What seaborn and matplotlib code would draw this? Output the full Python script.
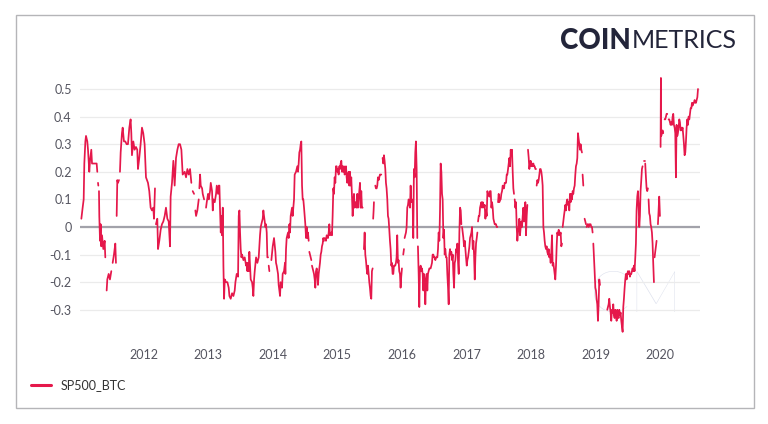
import numpy as np
import pandas as pd
import matplotlib
matplotlib.use("Agg")
import matplotlib.pyplot as plt
import matplotlib.dates as mdates
from matplotlib.lines import Line2D
from matplotlib.patches import Rectangle
from matplotlib.ticker import FuncFormatter
import seaborn as sns

nan = np.nan

# 90-day correlation of S&P 500 and BTC returns (decimal years)
years_a = [2011.038, 2011.058, 2011.074, 2011.084, 2011.100, 2011.110, 2011.130, 2011.141, 2011.161, 2011.172,
           2011.192, 2011.203, 2011.234, 2011.275, 2011.285, 2011.290, 2011.296, 2011.301, 2011.306, 2011.311,
           2011.316, 2011.327, 2011.337, 2011.347, 2011.358, 2011.378, 2011.399, 2011.409, 2011.420, 2011.430,
           2011.440, 2011.461, 2011.481, 2011.502, 2011.512, 2011.523, 2011.543, 2011.564, 2011.574, 2011.580,
           2011.585, 2011.595, 2011.605, 2011.621, 2011.628, 2011.636, 2011.647, 2011.667, 2011.678, 2011.698,
           2011.719, 2011.739, 2011.760, 2011.781, 2011.801, 2011.812, 2011.822, 2011.843, 2011.863, 2011.884,
           2011.904, 2011.915, 2011.935, 2011.956, 2011.977, 2011.997, 2012.018, 2012.039, 2012.070, 2012.090,
           2012.111, 2012.132, 2012.152, 2012.163, 2012.178, 2012.186, 2012.193, 2012.214, 2012.225, 2012.245,
           2012.266, 2012.286, 2012.307, 2012.328, 2012.348, 2012.369, 2012.390, 2012.410, 2012.420, 2012.441,
           2012.462, 2012.482, 2012.503, 2012.524, 2012.544, 2012.565, 2012.586]
corr_a = [0.03, 0.07, 0.10, 0.23, 0.31, 0.33, 0.31, 0.28, 0.20, 0.24,
          0.28, 0.23, 0.23, 0.23, 0.20, nan, 0.16, 0.15, nan, 0.13,
          0.04, -0.05, 0.01, -0.07, -0.03, -0.08, -0.05, -0.11, nan, -0.23,
          -0.19, -0.17, -0.19, -0.16, nan, -0.13, -0.10, -0.06, -0.13, nan,
          0.04, 0.17, 0.16, 0.17, nan, 0.20, 0.27, 0.34, 0.36, 0.31,
          0.31, 0.30, 0.30, 0.36, 0.39, 0.34, 0.26, 0.31, 0.28, 0.29,
          0.28, 0.21, 0.25, 0.30, 0.36, 0.34, 0.30, 0.18, 0.16, 0.13,
          0.07, 0.06, 0.07, 0.03, 0.14, nan, 0.01, 0.03, -0.08, -0.05,
          -0.01, 0.01, 0.02, 0.04, 0.07, 0.03, 0.02, -0.07, 0.11, 0.16,
          0.24, 0.15, 0.25, 0.28, 0.30, 0.30, 0.28]

years_b = [2012.606, 2012.637, 2012.658, 2012.679, 2012.699, 2012.720, 2012.740, 2012.750, 2012.761, 2012.782,
           2012.792, 2012.802, 2012.813, 2012.833, 2012.854, 2012.859, 2012.864, 2012.875, 2012.885, 2012.906,
           2012.916, 2012.937, 2012.952, 2012.967, 2012.978, 2012.998, 2013.009, 2013.029, 2013.040, 2013.060,
           2013.071, 2013.081, 2013.102, 2013.122, 2013.133, 2013.153, 2013.164, 2013.174, 2013.184, 2013.195,
           2013.205, 2013.215, 2013.226, 2013.236, 2013.246, 2013.257, 2013.277, 2013.298, 2013.318, 2013.329,
           2013.349, 2013.370, 2013.391, 2013.411, 2013.422, 2013.442, 2013.463, 2013.473, 2013.484, 2013.494,
           2013.504, 2013.515, 2013.525, 2013.546, 2013.566, 2013.587, 2013.597, 2013.607, 2013.618, 2013.628,
           2013.638, 2013.659, 2013.680, 2013.690, 2013.700, 2013.711, 2013.721, 2013.742, 2013.762, 2013.783,
           2013.793, 2013.803, 2013.814, 2013.834, 2013.845, 2013.855, 2013.865, 2013.876, 2013.886, 2013.896,
           2013.907, 2013.917, 2013.927, 2013.932, 2013.938, 2013.948, 2013.958, 2013.979, 2014.000, 2014.020,
           2014.041, 2014.051, 2014.061, 2014.082, 2014.092, 2014.103, 2014.113, 2014.123, 2014.144, 2014.154,
           2014.175, 2014.190]
corr_b = [0.19, 0.20, 0.18, 0.21, 0.19, 0.21, 0.16, nan, 0.13, 0.12,
          nan, 0.06, 0.04, 0.06, 0.10, nan, 0.14, 0.19, 0.15, 0.14,
          0.12, 0.10, nan, 0.07, 0.09, 0.12, 0.10, 0.13, 0.16, 0.13,
          0.06, 0.10, 0.09, 0.12, 0.15, 0.12, 0.15, 0.15, 0.06, -0.02,
          0.04, -0.03, 0.07, -0.14, -0.26, -0.19, -0.20, -0.20, -0.22, -0.25,
          -0.26, -0.24, -0.25, -0.23, -0.20, -0.17, -0.18, 0.04, 0.06, -0.02,
          -0.08, -0.11, -0.10, -0.12, -0.11, -0.14, -0.13, -0.16, -0.13, -0.16,
          -0.09, -0.19, -0.20, -0.22, -0.25, -0.19, -0.16, -0.11, -0.13, -0.11,
          -0.07, -0.03, 0.00, 0.02, 0.03, 0.06, 0.04, 0.02, 0.00, 0.01,
          -0.02, -0.11, -0.11, nan, -0.14, -0.16, nan, -0.12, -0.07, -0.04,
          -0.09, -0.13, -0.14, -0.17, -0.21, -0.23, -0.25, -0.20, -0.22, -0.17,
          -0.16, -0.13]

years_c = [2014.196, 2014.206, 2014.216, 2014.237, 2014.247, 2014.258, 2014.268, 2014.278, 2014.299, 2014.309,
           2014.319, 2014.330, 2014.340, 2014.361, 2014.381, 2014.392, 2014.402, 2014.412, 2014.423, 2014.433,
           2014.443, 2014.454, 2014.464, 2014.474, 2014.485, 2014.495, 2014.505, 2014.516, 2014.526, 2014.536,
           2014.546, 2014.557, 2014.562, 2014.567, 2014.588, 2014.598, 2014.603, 2014.608, 2014.629, 2014.639,
           2014.650, 2014.660, 2014.670, 2014.681, 2014.691, 2014.701, 2014.712, 2014.722, 2014.732, 2014.743,
           2014.753, 2014.763, 2014.774, 2014.784, 2014.794, 2014.799, 2014.805, 2014.825, 2014.836, 2014.856,
           2014.867, 2014.877, 2014.887, 2014.908, 2014.918, 2014.928, 2014.939, 2014.949, 2014.959, 2014.970,
           2014.980, 2014.990, 2015.001, 2015.011, 2015.021, 2015.032, 2015.042, 2015.052, 2015.063, 2015.073,
           2015.083, 2015.093, 2015.104, 2015.114, 2015.124, 2015.135, 2015.145, 2015.155, 2015.166, 2015.176,
           2015.186, 2015.197, 2015.207, 2015.217, 2015.228, 2015.238, 2015.248, 2015.259, 2015.269, 2015.279,
           2015.290, 2015.300, 2015.310, 2015.321, 2015.331, 2015.341, 2015.352, 2015.362, 2015.372, 2015.382,
           2015.393, 2015.400, 2015.413, 2015.424, 2015.434, 2015.444, 2015.455, 2015.465, 2015.475, 2015.486,
           2015.496, 2015.506, 2015.517, 2015.527, 2015.537, 2015.548, 2015.551, 2015.556, 2015.563, 2015.568,
           2015.579, 2015.589, 2015.599, 2015.610, 2015.620, 2015.630, 2015.641, 2015.651, 2015.661, 2015.672,
           2015.682, 2015.688, 2015.702, 2015.713, 2015.723, 2015.733, 2015.744, 2015.754]
corr_c = [-0.17, -0.08, -0.04, -0.02, -0.04, 0.01, -0.02, 0.04, 0.07, 0.04,
          0.07, 0.10, 0.19, 0.20, 0.22, 0.20, 0.23, 0.27, 0.28, 0.30,
          0.31, 0.15, 0.10, 0.10, 0.07, 0.04, 0.01, -0.04, 0.00, -0.04,
          -0.02, -0.05, nan, -0.09, -0.11, -0.12, nan, -0.14, -0.16, -0.17,
          -0.19, -0.22, -0.16, -0.15, -0.17, -0.21, -0.17, -0.15, -0.13, -0.10,
          -0.09, -0.07, -0.06, -0.04, -0.05, nan, -0.04, -0.05, -0.03, -0.04,
          -0.02, 0.01, -0.03, -0.02, -0.03, 0.04, 0.14, 0.12, 0.18, 0.16,
          0.22, 0.22, 0.20, 0.21, 0.19, 0.22, 0.21, 0.23, 0.24, 0.20,
          0.22, 0.20, 0.22, 0.19, 0.20, 0.22, 0.18, 0.16, 0.19, 0.20,
          0.15, 0.20, 0.15, 0.18, 0.11, 0.04, 0.09, 0.12, 0.07, 0.09,
          0.08, 0.07, 0.12, 0.07, 0.10, 0.13, 0.16, 0.07, 0.13, 0.07,
          0.07, nan, -0.08, -0.02, -0.10, -0.12, -0.15, -0.17, -0.14, -0.17,
          -0.20, -0.22, -0.25, -0.26, -0.16, -0.15, nan, 0.03, 0.06, 0.09,
          nan, 0.15, 0.14, 0.14, 0.15, 0.18, 0.17, 0.18, 0.19, 0.19,
          0.19, nan, 0.25, 0.23, 0.26, 0.24, 0.21, 0.16]

years_d = [2015.764, 2015.775, 2015.785, 2015.795, 2015.806, 2015.816, 2015.826, 2015.837, 2015.847, 2015.857,
           2015.868, 2015.878, 2015.888, 2015.898, 2015.909, 2015.919, 2015.929, 2015.940, 2015.950, 2015.960,
           2015.971, 2015.981, 2015.991, 2016.002, 2016.012, 2016.022, 2016.033, 2016.038, 2016.043, 2016.053,
           2016.064, 2016.074, 2016.084, 2016.095, 2016.105, 2016.115, 2016.126, 2016.136, 2016.146, 2016.157,
           2016.167, 2016.177, 2016.187, 2016.198, 2016.208, 2016.218, 2016.229, 2016.239, 2016.244, 2016.249,
           2016.260, 2016.270, 2016.280, 2016.291, 2016.301, 2016.311, 2016.322, 2016.332, 2016.342, 2016.353,
           2016.363, 2016.373, 2016.384, 2016.394, 2016.404, 2016.414, 2016.425, 2016.435, 2016.445, 2016.456,
           2016.466, 2016.476, 2016.487, 2016.497, 2016.507, 2016.518, 2016.528, 2016.538, 2016.549, 2016.559,
           2016.569, 2016.580, 2016.590, 2016.600, 2016.611, 2016.621, 2016.631, 2016.642, 2016.652, 2016.662,
           2016.672, 2016.683, 2016.693, 2016.703, 2016.714, 2016.724, 2016.734, 2016.745, 2016.755, 2016.765,
           2016.776, 2016.786, 2016.796, 2016.807, 2016.817, 2016.827, 2016.838, 2016.848, 2016.858, 2016.869,
           2016.879, 2016.889, 2016.900, 2016.910, 2016.920, 2016.925, 2016.931, 2016.941, 2016.951, 2016.961,
           2016.972, 2016.982, 2016.992, 2017.003, 2017.013, 2017.023, 2017.034, 2017.044, 2017.054, 2017.065,
           2017.075, 2017.085, 2017.096, 2017.106, 2017.116, 2017.127, 2017.137, 2017.147, 2017.158, 2017.168,
           2017.173, 2017.178, 2017.189, 2017.199, 2017.209, 2017.219, 2017.230, 2017.240, 2017.250, 2017.261,
           2017.271, 2017.281, 2017.292, 2017.302, 2017.312, 2017.323, 2017.333]
corr_d = [0.14, 0.10, 0.04, 0.03, -0.01, -0.05, -0.08, -0.14, -0.13, -0.17,
          -0.17, -0.14, -0.14, -0.14, -0.13, -0.11, -0.03, -0.13, -0.12, -0.16,
          -0.17, -0.22, -0.18, -0.15, nan, -0.10, -0.08, nan, -0.04, -0.03,
          -0.02, 0.00, 0.07, 0.08, 0.10, 0.09, 0.07, 0.15, 0.09, 0.10,
          0.09, -0.04, 0.21, 0.18, 0.27, 0.31, 0.21, -0.04, nan, -0.07,
          -0.17, -0.29, -0.15, -0.14, -0.16, -0.15, -0.17, -0.23, -0.17, -0.19,
          -0.28, -0.20, -0.17, -0.23, -0.17, -0.16, -0.15, -0.15, -0.15, -0.14,
          -0.13, -0.10, -0.10, -0.11, -0.11, -0.12, -0.11, -0.11, -0.11, -0.08,
          -0.02, -0.05, 0.06, 0.23, 0.20, 0.12, 0.10, -0.04, -0.01, -0.10,
          -0.08, -0.11, -0.11, -0.17, -0.22, -0.28, -0.10, -0.08, -0.10, -0.09,
          -0.12, -0.10, -0.17, -0.22, -0.13, -0.12, -0.08, -0.09, -0.06, -0.13,
          -0.17, -0.02, 0.07, 0.06, 0.01, nan, 0.00, -0.02, -0.04, -0.07,
          -0.05, -0.08, -0.11, -0.14, -0.12, -0.11, -0.09, -0.07, -0.04, -0.03,
          -0.02, 0.00, -0.08, -0.05, -0.10, -0.19, -0.11, -0.06, -0.04, -0.02,
          nan, 0.02, 0.04, 0.04, 0.07, 0.08, 0.09, 0.07, 0.09, 0.08,
          0.07, 0.08, 0.03, 0.06, 0.04, 0.13, 0.12]

years_e = [2017.343, 2017.354, 2017.364, 2017.374, 2017.385, 2017.395, 2017.405, 2017.416, 2017.426, 2017.436,
           2017.446, 2017.457, 2017.467, 2017.477, 2017.482, 2017.488, 2017.498, 2017.508, 2017.519, 2017.529,
           2017.539, 2017.550, 2017.560, 2017.570, 2017.581, 2017.591, 2017.601, 2017.612, 2017.622, 2017.632,
           2017.643, 2017.653, 2017.663, 2017.674, 2017.684, 2017.694, 2017.704, 2017.715, 2017.725, 2017.735,
           2017.740, 2017.746, 2017.756, 2017.766, 2017.777, 2017.787, 2017.797, 2017.808, 2017.818, 2017.828,
           2017.839, 2017.849, 2017.859, 2017.870, 2017.880, 2017.890, 2017.901, 2017.911, 2017.921, 2017.932,
           2017.942, 2017.947, 2017.952, 2017.963, 2017.973, 2017.983, 2017.993, 2018.004, 2018.014, 2018.024,
           2018.035, 2018.045, 2018.055, 2018.066, 2018.076, 2018.081, 2018.086, 2018.097, 2018.107, 2018.117,
           2018.128, 2018.138, 2018.148, 2018.159, 2018.169, 2018.179, 2018.190, 2018.200, 2018.210, 2018.220,
           2018.231, 2018.241, 2018.251, 2018.262, 2018.272, 2018.282, 2018.293, 2018.303, 2018.313, 2018.324,
           2018.334, 2018.344, 2018.355, 2018.365, 2018.375, 2018.386, 2018.396, 2018.406, 2018.417, 2018.427,
           2018.437, 2018.448, 2018.458, 2018.468, 2018.478, 2018.484, 2018.489, 2018.499, 2018.509, 2018.520,
           2018.530, 2018.540, 2018.551, 2018.561, 2018.571, 2018.582, 2018.592, 2018.602, 2018.613, 2018.623,
           2018.633, 2018.644, 2018.654, 2018.664, 2018.675, 2018.685, 2018.695, 2018.706, 2018.716, 2018.726,
           2018.736, 2018.747, 2018.757, 2018.767, 2018.778, 2018.788, 2018.793, 2018.798, 2018.809, 2018.814,
           2018.829, 2018.840, 2018.850, 2018.855, 2018.860, 2018.871, 2018.881, 2018.891, 2018.902]
corr_e = [0.12, 0.11, 0.13, 0.13, 0.07, 0.09, 0.07, 0.03, 0.02, 0.01,
          0.01, 0.01, 0.00, 0.00, nan, 0.09, 0.12, 0.09, 0.10, 0.10,
          0.12, 0.13, 0.15, 0.14, 0.14, 0.16, 0.16, 0.16, 0.19, 0.19,
          0.21, 0.23, 0.25, 0.22, 0.28, 0.26, 0.28, 0.20, 0.14, 0.12,
          nan, 0.10, 0.07, 0.09, 0.00, -0.05, -0.02, 0.00, 0.03, -0.03,
          0.00, 0.02, 0.00, 0.04, 0.07, 0.02, 0.06, 0.09, -0.03, 0.04,
          0.08, nan, 0.28, 0.25, 0.21, 0.23, 0.24, 0.22, 0.23, 0.22,
          0.23, 0.22, 0.22, 0.21, 0.21, nan, 0.15, 0.17, 0.16, 0.17,
          0.19, 0.21, 0.21, 0.20, 0.18, 0.15, 0.00, -0.02, -0.05, -0.07,
          -0.08, -0.07, -0.09, -0.10, -0.08, -0.11, -0.10, -0.13, -0.09, -0.03,
          -0.14, -0.13, -0.15, -0.17, -0.19, -0.14, -0.07, -0.02, -0.03, -0.01,
          -0.02, -0.03, -0.02, -0.07, -0.06, nan, 0.00, 0.02, 0.04, 0.06,
          0.08, 0.06, 0.09, 0.10, 0.08, 0.09, 0.06, 0.12, 0.09, 0.12,
          0.10, 0.13, 0.12, 0.14, 0.15, 0.19, 0.22, 0.23, 0.25, 0.34,
          0.32, 0.30, 0.28, 0.30, 0.28, 0.27, nan, 0.19, 0.15, nan,
          0.03, 0.02, 0.01, nan, 0.00, 0.01, 0.01, 0.00, 0.01]

years_f = [2018.912, 2018.922, 2018.933, 2018.943, 2018.953, 2018.958, 2018.964, 2018.974, 2018.984, 2018.995,
           2019.005, 2019.015, 2019.025, 2019.036, 2019.046, 2019.056, 2019.067, 2019.100, 2019.180, 2019.201,
           2019.211, 2019.222, 2019.232, 2019.242, 2019.253, 2019.263, 2019.273, 2019.283, 2019.294, 2019.304,
           2019.314, 2019.325, 2019.335, 2019.345, 2019.356, 2019.366, 2019.376, 2019.387, 2019.397, 2019.407,
           2019.418, 2019.428, 2019.438, 2019.449, 2019.459, 2019.469, 2019.480, 2019.490, 2019.500, 2019.511,
           2019.521, 2019.531, 2019.541, 2019.552, 2019.562, 2019.572, 2019.583, 2019.593, 2019.603, 2019.614,
           2019.624, 2019.634, 2019.645, 2019.655, 2019.665, 2019.676, 2019.686, 2019.696, 2019.707, 2019.717,
           2019.727, 2019.732, 2019.748, 2019.758, 2019.763, 2019.768, 2019.779, 2019.789, 2019.799, 2019.810,
           2019.815, 2019.820, 2019.830, 2019.841, 2019.851, 2019.861, 2019.872, 2019.882, 2019.892, 2019.903,
           2019.908, 2019.913, 2019.923, 2019.934, 2019.944, 2019.949, 2019.965, 2019.975, 2019.985, 2019.996,
           2020.001, 2020.006, 2020.011, 2020.016, 2020.027, 2020.037, 2020.047, 2020.057, 2020.068, 2020.078,
           2020.089, 2020.099, 2020.109, 2020.114, 2020.130, 2020.140, 2020.150, 2020.161, 2020.171, 2020.181,
           2020.192, 2020.202, 2020.212, 2020.223, 2020.233, 2020.243, 2020.253, 2020.264, 2020.274, 2020.284,
           2020.295, 2020.305, 2020.315, 2020.326, 2020.336, 2020.346, 2020.357, 2020.367, 2020.377, 2020.388,
           2020.398, 2020.408, 2020.419, 2020.429, 2020.439, 2020.450, 2020.460, 2020.470, 2020.481, 2020.491,
           2020.501, 2020.512, 2020.522, 2020.532, 2020.543, 2020.553, 2020.563, 2020.574, 2020.584]
corr_f = [0.01, 0.01, 0.00, 0.00, -0.02, nan, -0.06, -0.11, -0.16, -0.22,
          -0.23, -0.26, -0.28, -0.34, -0.28, -0.19, -0.21, nan, -0.30, -0.28,
          -0.26, -0.29, -0.31, -0.34, -0.30, -0.31, -0.28, -0.32, -0.33, -0.30,
          -0.31, -0.34, -0.30, -0.32, -0.33, -0.30, -0.32, -0.31, -0.34, -0.36,
          -0.38, -0.29, -0.26, -0.22, -0.19, -0.17, -0.19, -0.17, -0.16, -0.17,
          -0.16, -0.18, -0.17, -0.17, -0.16, -0.15, -0.16, -0.14, -0.16, -0.11,
          -0.06, 0.06, 0.11, 0.13, 0.08, 0.00, 0.04, 0.13, 0.17, 0.21,
          0.22, nan, 0.24, 0.24, nan, 0.23, 0.18, 0.14, 0.13, 0.14,
          nan, 0.10, 0.05, 0.04, 0.01, 0.00, -0.02, -0.06, -0.13, -0.20,
          nan, -0.11, -0.09, -0.07, -0.05, nan, 0.01, 0.06, 0.11, 0.04,
          nan, 0.29, 0.54, 0.33, 0.34, 0.35, 0.34, nan, 0.39, 0.39,
          0.40, 0.41, 0.41, nan, 0.39, 0.39, 0.38, 0.37, 0.38, 0.37,
          0.40, 0.41, 0.37, 0.36, 0.34, 0.18, 0.37, 0.33, 0.34, 0.36,
          0.39, 0.38, 0.35, 0.36, 0.35, 0.36, 0.33, 0.30, 0.26, 0.27,
          0.31, 0.36, 0.39, 0.37, 0.40, 0.39, 0.41, 0.43, 0.43, 0.45,
          0.44, 0.45, 0.45, 0.46, 0.45, 0.45, 0.46, 0.47, 0.50]

y_ticks = [-0.3, -0.2, -0.1, 0, 0.1, 0.2, 0.3, 0.4, 0.5]
series_name = "SP500_BTC"
RED = "#e5184b"
TEXT = "#555560"
NAVY = "#23253a"


def to_date(y):
    yr = int(y)
    start = pd.Timestamp(year=yr, month=1, day=1)
    end = pd.Timestamp(year=yr + 1, month=1, day=1)
    return start + (end - start) * (y - yr)


years = years_a + years_b + years_c + years_d + years_e + years_f
corr = corr_a + corr_b + corr_c + corr_d + corr_e + corr_f
df = pd.DataFrame({"date": [to_date(y) for y in years], "corr": corr})
# gaps in the series split it into separate runs
df["run"] = df["corr"].isna().cumsum()
df = df.dropna()

sns.set_style("white")
plt.rcParams["font.family"] = ["Lato", "DejaVu Sans"]

fig = plt.figure(figsize=(7.68, 4.24), dpi=100)
ax = fig.add_axes([80 / 768, 1 - 337.4 / 424, 620 / 768, 262.2 / 424])

ax.yaxis.grid(True, color="#ebebeb", lw=0.9, zorder=0)
ax.axhline(0, color="#a2a2aa", lw=1.6, zorder=1)
sns.lineplot(data=df, x="date", y="corr", units="run", estimator=None,
             color=RED, lw=1.25, ax=ax, legend=False, zorder=3)

ax.set_xlim(to_date(2011.017), to_date(2020.615))
ax.set_ylim(-0.4, 0.55)
ax.set_yticks(y_ticks)
ax.yaxis.set_major_formatter(FuncFormatter(lambda v, p: f"{v:g}"))
ax.xaxis.set_major_locator(mdates.YearLocator())
ax.xaxis.set_major_formatter(mdates.DateFormatter("%Y"))
ax.tick_params(axis="both", length=0, labelsize=9, labelcolor=TEXT)
ax.tick_params(axis="y", pad=6)
ax.tick_params(axis="x", pad=8)
ax.set_xlabel("")
ax.set_ylabel("")
sns.despine(ax=ax, left=True, bottom=True)

# faint CM watermark behind the line
ax.text(636 / 768, 1 - 296 / 424, "CM", transform=fig.transFigure, ha="center", va="center",
        fontsize=42, fontweight="light", color="#dde1ed", zorder=0)

# legend at the bottom left
fig.legend(handles=[Line2D([0], [0], color=RED, lw=2.2)], labels=[series_name],
           loc="center left", bbox_to_anchor=(31 / 768, 1 - 385 / 424), frameon=False,
           fontsize=9, handlelength=1.6, handletextpad=0.8, borderpad=0, borderaxespad=0,
           labelcolor="#333333")

# logo
renderer = fig.canvas.get_renderer()
t1 = fig.text(560 / 768, 1 - 41 / 424, "COIN", fontsize=20, fontweight="black",
              color=NAVY, va="center", ha="left")
x1 = t1.get_window_extent(renderer).x1
fig.text((x1 + 1) / 768, 1 - 41 / 424, "METRICS", fontsize=18, fontweight="normal",
         color=NAVY, va="center", ha="left")

# outer frame
fig.patches.append(Rectangle((16 / 768, 1 - 408 / 424), 738 / 768, 393 / 424,
                             transform=fig.transFigure, fill=False, ec="#b5b5b8", lw=1.0))

fig.savefig("out.png", dpi=100)
